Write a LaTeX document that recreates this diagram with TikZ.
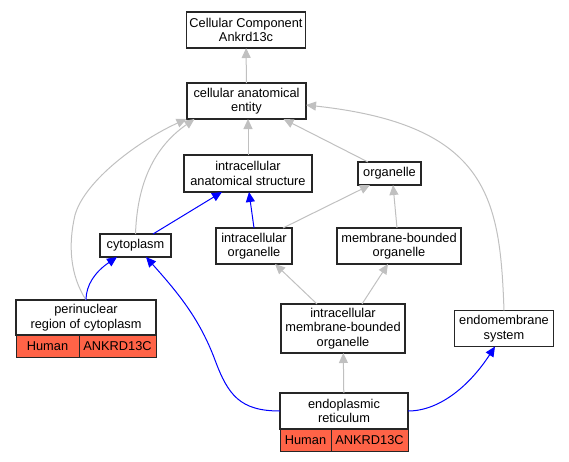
\documentclass[tikz,border=0pt]{standalone}
\usepackage{fontspec}
\setmainfont{Liberation Sans}
\usepackage{tikz}
\usetikzlibrary{arrows.meta}
\definecolor{edgegray}{HTML}{C0C0C0}
\definecolor{tomatofill}{HTML}{FF6347}
\tikzset{
  box/.style={draw=black!85, line width=1.2pt, fill=white, inner sep=0pt, outer sep=0pt, align=center, font=\fontsize{12.8}{14.5}\selectfont},
  cell/.style={draw=black!85, line width=1pt, fill=tomatofill, inner sep=0pt, outer sep=0pt, minimum height=22pt, anchor=north west, font=\fontsize{12.8}{14.5}\selectfont},
  isa/.style={draw=edgegray, line width=1pt, -{Triangle[length=10pt,width=9pt]}},
  partof/.style={draw=blue, line width=1pt, -{Triangle[length=10pt,width=9pt]}}
}
\begin{document}
\begin{tikzpicture}[x=1pt,y=-1pt]
\useasboundingbox (0,0) rectangle (569,461);
\node[box, minimum width=119pt, minimum height=36pt] (cc) at (246,30) {Cellular Component\\Ankrd13c};
\node[box, minimum width=119pt, minimum height=36pt] (cae) at (246.5,101) {cellular anatomical\\entity};
\node[box, minimum width=128pt, minimum height=37pt] (ias) at (248,173.5) {intracellular\\anatomical structure};
\node[box, minimum width=63pt, minimum height=23pt] (org) at (389.5,173.5) {organelle};
\node[box, minimum width=71pt, minimum height=23pt] (cyto) at (135.5,245.5) {cytoplasm};
\node[box, minimum width=76pt, minimum height=36pt] (io) at (254,246) {intracellular\\organelle};
\node[box, minimum width=124pt, minimum height=36pt] (mbo) at (399,246) {membrane-bounded\\organelle};
\node[box, minimum width=140pt, minimum height=35pt] (peri) at (86,317.5) {perinuclear\\region of cytoplasm};
\node[cell, minimum width=63pt] (perih) at (peri.south west) {Human};
\node[cell, minimum width=77pt] (peria) at (perih.north east) {ANKRD13C};
\node[box, minimum width=124pt, minimum height=49pt] (imbo) at (343,328.5) {intracellular\\membrane-bounded\\organelle};
\node[box, minimum width=99pt, minimum height=36pt] (ems) at (504,328.5) {endomembrane\\system};
\node[box, minimum width=128pt, minimum height=36pt] (er) at (344,411) {endoplasmic\\reticulum};
\node[cell, minimum width=51pt] (erh) at (er.south west) {Human};
\node[cell, minimum width=77pt] (era) at (erh.north east) {ANKRD13C};

\draw[isa] (cae) -- (cc);
\draw[isa] (ias) -- ([xshift=1.5pt]cae.south);
\draw[isa] ([xshift=-21.5pt]org.north) -- ([xshift=37pt]cae.south);
\draw[isa] (cyto.north) .. controls (137,190) and (150,150) .. ([xshift=-52pt]cae.south);
\draw[isa] (peri.north) .. controls (70,275) and (68,245) .. (75,215) .. controls (85,180) and (140,140) .. ([xshift=-60pt]cae.south);
\draw[isa] (ems.north) .. controls (500,200) and (490,125) .. ([yshift=-4pt]cae.east);
\draw[partof] ([xshift=17.5pt]cyto.north) -- ([xshift=-26pt]ias.south);
\draw[partof] (io.north) -- ([xshift=1pt]ias.south);
\draw[isa] ([xshift=29pt]io.north) -- ([xshift=-19.5pt]org.south);
\draw[isa] ([xshift=-2pt]mbo.north) -- ([xshift=3.5pt]org.south);
\draw[isa] ([xshift=-26pt]imbo.north) -- ([xshift=21pt]io.south);
\draw[isa] ([xshift=19pt]imbo.north) -- ([xshift=-11pt]mbo.south);
\draw[isa] (er) -- (imbo);
\draw[partof] (peri.north) .. controls (86,285) and (95,272) .. ([xshift=-18.5pt]cyto.south);
\draw[partof] (er.west) .. controls (240,411) and (228,395) .. (215,360) .. controls (200,320) and (180,295) .. ([xshift=10.5pt]cyto.south);
\draw[partof] (er.east) .. controls (440,411) and (470,385) .. ([xshift=-9pt]ems.south);
\end{tikzpicture}
\end{document}
